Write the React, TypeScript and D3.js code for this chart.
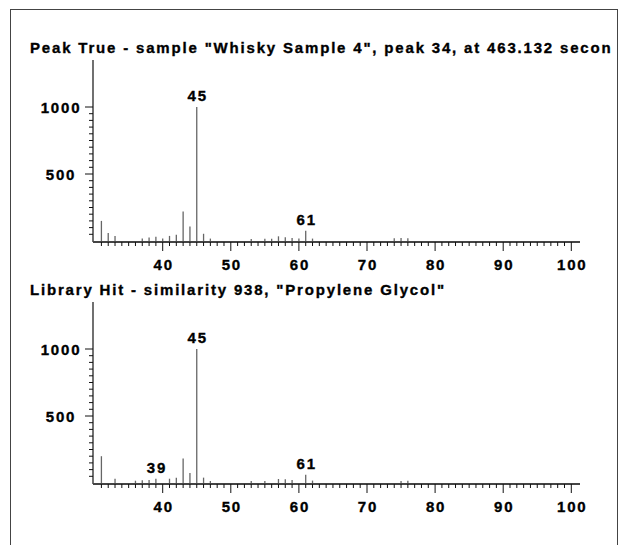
import React from "react";
import * as d3 from "d3";

// sample spectrum (peak 34 of Whisky Sample 4)
const sampleMz = [31, 32, 33, 37, 38, 39, 40, 41, 42, 43, 44, 45, 46, 47, 53, 55, 56, 57, 58, 59, 60, 61, 62, 74, 75, 76];
const sampleInt = [150, 60, 37, 18, 26, 31, 18, 38, 47, 221, 109, 1000, 54, 18, 15, 17, 17, 35, 28, 22, 18, 76, 18, 20, 22, 20];
const sampleLabels = [45, 61];

// library spectrum (Propylene Glycol)
const libMz = [31, 33, 36, 37, 38, 39, 41, 42, 43, 44, 45, 46, 47, 53, 55, 57, 58, 59, 61, 62, 75, 76];
const libInt = [200, 32, 17, 20, 22, 32, 32, 40, 182, 74, 1000, 40, 15, 15, 15, 30, 28, 22, 62, 18, 15, 17];
const libLabels = [39, 45, 61];

const xTicks = [40, 50, 60, 70, 80, 90, 100];
const yTicks = [500, 1000];

// the top title is cut short in the original window
const titleTop = 'Peak True - sample "Whisky Sample 4", peak 34, at 463.132 secon';
const titleBottom = 'Library Hit - similarity 938, "Propylene Glycol"';

const FONT = "'Liberation Sans', Arial, sans-serif";

type SpecProps = {
  top: number;
  title: string;
  mz: number[];
  inten: number[];
  labels: number[];
};

// bold text, slightly stroked to look like the old bitmap font
function Label(props: any) {
  return (
    <text
      fontFamily={FONT}
      fontWeight="bold"
      fontSize={15}
      letterSpacing={1.8}
      stroke="#000"
      strokeWidth={0.35}
      {...props}
    />
  );
}

function Spectrum({ top, title, mz, inten, labels }: SpecProps) {
  const base = top + 241;
  const x = d3.scaleLinear().domain([30, 100]).range([94.6, 571.3]);
  const y = d3.scaleLinear().domain([0, 1000]).range([base, base - 134]);

  const minorX = d3.range(31, 101);
  const minorY = d3.range(50, 1001, 50);
  const peaks = mz.map((m, i) => ({ m, v: inten[i] }));

  return (
    <g>
      <Label x={30} y={top + 53} letterSpacing={1.82}>
        {title}
      </Label>

      {/* peaks */}
      {peaks.map((d) => (
        <line
          key={d.m}
          x1={x(d.m)}
          x2={x(d.m)}
          y1={y(0) + 1}
          y2={y(d.v)}
          stroke="#666"
          strokeWidth={1.3}
        />
      ))}
      {labels.map((m) => {
        const v = inten[mz.indexOf(m)];
        return (
          <Label key={m} x={x(m) + 1} y={y(v) - 6} textAnchor="middle">
            {m}
          </Label>
        );
      })}

      {/* y axis */}
      <line x1={93} x2={93} y1={top + 60} y2={base + 1} stroke="#111" strokeWidth={1.2} />
      {minorY.map((t) => (
        <line
          key={t}
          x1={yTicks.includes(t) ? 85 : 89}
          x2={93}
          y1={y(t)}
          y2={y(t)}
          stroke="#111"
          strokeWidth={1}
        />
      ))}
      {yTicks.map((t) => (
        <Label key={t} x={61} y={y(t) + 5.5} textAnchor="middle">
          {t}
        </Label>
      ))}

      {/* x axis */}
      <line x1={93} x2={580} y1={base + 1} y2={base + 1} stroke="#444" strokeWidth={2} />
      {minorX.map((t) => (
        <line
          key={t}
          x1={x(t)}
          x2={x(t)}
          y1={base + 1}
          y2={base + (xTicks.includes(t) ? 10 : 5)}
          stroke="#111"
          strokeWidth={1}
        />
      ))}
      {xTicks.map((t) => (
        <Label key={t} x={x(t) + 1} y={base + 29} textAnchor="middle">
          {t}
        </Label>
      ))}
    </g>
  );
}

export default function App() {
  return (
    <svg
      width={624}
      height={545}
      style={{ position: "absolute", left: 0, top: 0, background: "#fff" }}
    >
      <rect x={10.5} y={9.5} width={607} height={560} fill="#fff" stroke="#444" strokeWidth={1} />
      <Spectrum top={0} title={titleTop} mz={sampleMz} inten={sampleInt} labels={sampleLabels} />
      <Spectrum top={242} title={titleBottom} mz={libMz} inten={libInt} labels={libLabels} />
    </svg>
  );
}
